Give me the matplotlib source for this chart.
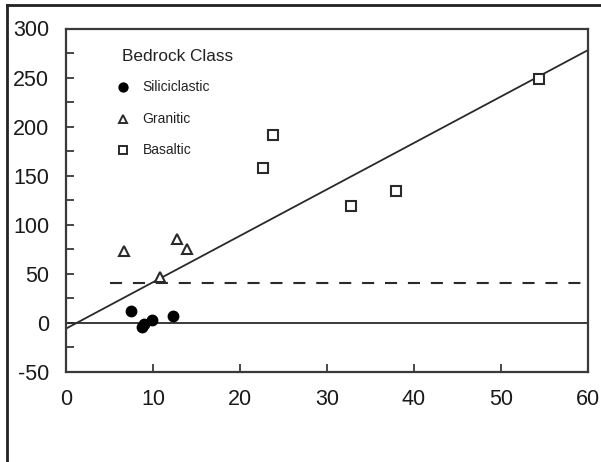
import matplotlib
matplotlib.use("Agg")
import matplotlib.pyplot as plt
from matplotlib.lines import Line2D
from matplotlib.ticker import MultipleLocator

plt.rcParams['font.family'] = ['Liberation Sans', 'DejaVu Sans']
plt.rcParams['axes.unicode_minus'] = False

# Bedrock class observations
sili_x = [7.5, 8.7, 9.0, 9.9, 12.3]
sili_y = [12, -4.5, -1, 3, 7.5]
gran_x = [6.7, 10.8, 12.8, 13.9]
gran_y = [73, 47, 86, 75]
basa_x = [22.7, 23.8, 32.8, 37.9, 54.4]
basa_y = [158, 191, 119, 134, 249]

# Fitted relation and threshold
fit_slope = 4.73
fit_intercept = -5.8
threshold = 41
threshold_start = 5

W, H, DPI = 601, 462, 100
fig = plt.figure(figsize=(W / DPI, H / DPI), dpi=DPI)
ax = fig.add_axes([66 / W, 1 - 372 / H, (588 - 66) / W, (372 - 28.5) / H])

dark = '#2a2a2a'
ax.set_xlim(0, 60)
ax.set_ylim(-50, 300)

xs = [0, 60]
ax.plot(xs, [fit_intercept + fit_slope * v for v in xs], color=dark, lw=1.3, zorder=2)
ax.plot([0, 60], [0, 0], color=dark, lw=1.3, zorder=2)
ax.plot([threshold_start, 59.3], [threshold, threshold], color=dark, lw=1.5,
        dashes=(5.8, 5.2), zorder=2)

ms = 7.5
ax.plot(sili_x, sili_y, 'o', color='black', ms=ms, mec='black', zorder=3)
ax.plot(gran_x, gran_y, '^', mfc='white', mec=dark, mew=1.5, ms=ms, zorder=3)
ax.plot(basa_x, basa_y, 's', mfc='white', mec=dark, mew=1.5, ms=ms - 0.5, zorder=3)

ax.xaxis.set_major_locator(MultipleLocator(10))
ax.yaxis.set_major_locator(MultipleLocator(50))
ax.yaxis.set_minor_locator(MultipleLocator(25))
ax.tick_params(axis='both', which='both', direction='in', length=6, width=1.2,
               colors=dark, labelsize=15.5, labelcolor='#1a1a1a')
ax.tick_params(axis='y', which='major', pad=12)
ax.tick_params(axis='x', which='major', pad=12)
for s in ax.spines.values():
    s.set_color('#3a3a3a')
    s.set_linewidth(1.6)

# Legend block
ax.text(6.4, 271, 'Bedrock Class', fontsize=12.4, color='#222222', va='center', ha='left')
entries = [('o', 'Siliciclastic', 'black'), ('^', 'Granitic', 'white'), ('s', 'Basaltic', 'white')]
leg_y = [240, 208, 176]
for (m, lab, fc), yy in zip(entries, leg_y):
    ax.plot([6.5], [yy], m, mfc=fc, mec=dark if fc == 'white' else 'black',
            mew=1.4, ms=6, zorder=3)
    ax.text(8.8, yy, lab, fontsize=10, color='#222222', va='center', ha='left')

# Outer frame
fig.add_artist(Line2D([7 / W, 7 / W], [0, 1 - 5 / H], transform=fig.transFigure,
                      color='#222222', lw=2))
fig.add_artist(Line2D([7 / W, 1], [1 - 5 / H, 1 - 5 / H], transform=fig.transFigure,
                      color='#222222', lw=2))

fig.savefig('out.png', dpi=DPI)
